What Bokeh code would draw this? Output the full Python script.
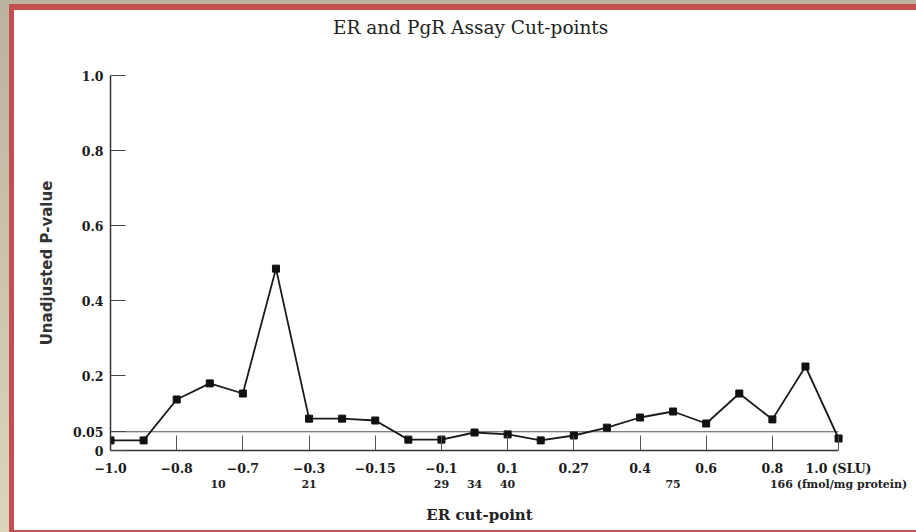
from bokeh.plotting import figure
from bokeh.layouts import column
from bokeh.models import FixedTicker, LinearAxis, Range1d, Div
from bokeh.embed import file_html
from bokeh.resources import INLINE

# ---- data -------------------------------------------------------------
cut_index = list(range(23))  # ordered ER cut-points (equally spaced on the axis)
p_values = [0.027, 0.027, 0.136, 0.179, 0.152, 0.485, 0.085, 0.085, 0.080,
            0.029, 0.029, 0.048, 0.043, 0.027, 0.040, 0.061, 0.088, 0.104,
            0.072, 0.152, 0.083, 0.224, 0.032]

slu_tick_index = [0, 2, 4, 6, 8, 10, 12, 14, 16, 18, 20, 22]
slu_tick_labels = ["−1.0", "−0.8", "−0.7", "−0.3", "−0.15", "−0.1", "0.1",
                   "0.27", "0.4", "0.6", "0.8", "1.0 (SLU)"]

fmol_tick_index = [3.25, 6, 10, 11, 12, 17, 22]
fmol_tick_labels = ["10", "21", "29", "34", "40", "75", "166 (fmol/mg protein)"]

y_ticks = [0, 0.05, 0.2, 0.4, 0.6, 0.8, 1.0]
y_tick_labels = ["0", "0.05", "0.2", "0.4", "0.6", "0.8", "1.0"]

alpha_level = 0.05
title_text = "ER and PgR Assay Cut-points"

SERIF = "DejaVu Serif"

# ---- title strip ------------------------------------------------------
title_div = Div(
    text=('<div style="font-family: \'DejaVu Serif\'; font-size: 18.5px; '
          'color: #222222; line-height: 36px; margin: 0 0 0 319px; '
          'white-space: nowrap;">' + title_text + '</div>'),
    width=902, height=36, margin=0, styles={"background-color": "white"})

# ---- figure -----------------------------------------------------------
pad_right = 0.3
p = figure(width=902, height=484,
           x_range=Range1d(cut_index[0], cut_index[-1] + pad_right),
           y_range=Range1d(0, 1.0),
           output_backend="svg", toolbar_location=None, title_location=None,
           min_border_left=96, min_border_right=68,
           min_border_top=29, min_border_bottom=80)
p.background_fill_color = "white"
p.border_fill_color = "white"
p.outline_line_color = None
p.styles = {"background-color": "white"}
p.xgrid.visible = False
p.ygrid.visible = False

# x axis (SLU)
xa = p.xaxis[0]
xa.ticker = FixedTicker(ticks=slu_tick_index)
xa.major_label_overrides = {t: l for t, l in zip(slu_tick_index, slu_tick_labels)}
xa.bounds = (cut_index[0], cut_index[-1])
xa.major_tick_in = 15
xa.major_tick_out = 0
xa.minor_tick_line_color = None
xa.major_tick_line_color = "#555555"
xa.axis_line_color = "#333333"
xa.axis_line_width = 1.5
xa.major_label_text_font = SERIF
xa.major_label_text_font_size = "12.5px"
xa.major_label_text_font_style = "bold"
xa.major_label_text_color = "#1a1a1a"
xa.major_label_standoff = 10

# second row of x labels (fmol/mg protein)
xa2 = LinearAxis(ticker=FixedTicker(ticks=fmol_tick_index),
                 major_label_overrides={t: l for t, l in zip(fmol_tick_index, fmol_tick_labels)},
                 axis_line_color=None, major_tick_line_color=None,
                 minor_tick_line_color=None,
                 major_label_text_font=SERIF, major_label_text_font_size="11px",
                 major_label_text_font_style="bold",
                 major_label_text_color="#222222", major_label_standoff=-7,
                 axis_label="ER cut-point", axis_label_text_font=SERIF,
                 axis_label_text_font_size="15px", axis_label_text_font_style="bold",
                 axis_label_text_color="#222222", axis_label_standoff=12)
p.add_layout(xa2, "below")

# y axis
ya = p.yaxis[0]
ya.ticker = FixedTicker(ticks=y_ticks)
ya.major_label_overrides = {t: l for t, l in zip(y_ticks, y_tick_labels)}
ya.bounds = (0, 1.0)
ya.major_tick_in = 15
ya.major_tick_out = 0
ya.minor_tick_line_color = None
ya.major_tick_line_color = "#444444"
ya.axis_line_color = "#333333"
ya.axis_line_width = 1.5
ya.major_label_text_font = SERIF
ya.major_label_text_font_size = "12.5px"
ya.major_label_text_font_style = "bold"
ya.major_label_text_color = "#1a1a1a"
ya.major_label_standoff = 7
ya.axis_label = "Unadjusted P-value"
ya.axis_label_text_font = "DejaVu Sans"
ya.axis_label_text_font_size = "15px"
ya.axis_label_text_font_style = "bold"
ya.axis_label_text_color = "#333333"
ya.axis_label_standoff = 14

# significance reference line
p.line([cut_index[0], cut_index[-1]], [alpha_level, alpha_level],
       line_color="#555555", line_width=1.2)

# data
p.line(cut_index, p_values, line_color="#1a1a1a", line_width=1.8)
p.scatter(cut_index, p_values, marker="square", size=7,
          fill_color="#111111", line_color="#111111")

# slide frame decoration: red border inside a tan margin
inner = column(title_div, p, spacing=0,
               styles={"background-color": "#c1504e",
                       "padding": "6px 0px 2px 5px"})
outer = column(inner, styles={"background": "linear-gradient(#b8b49d, #dcd5bd)",
                              "padding": "4px 0px 0px 9px"})

open("out.html", "w").write(file_html(outer, INLINE))
